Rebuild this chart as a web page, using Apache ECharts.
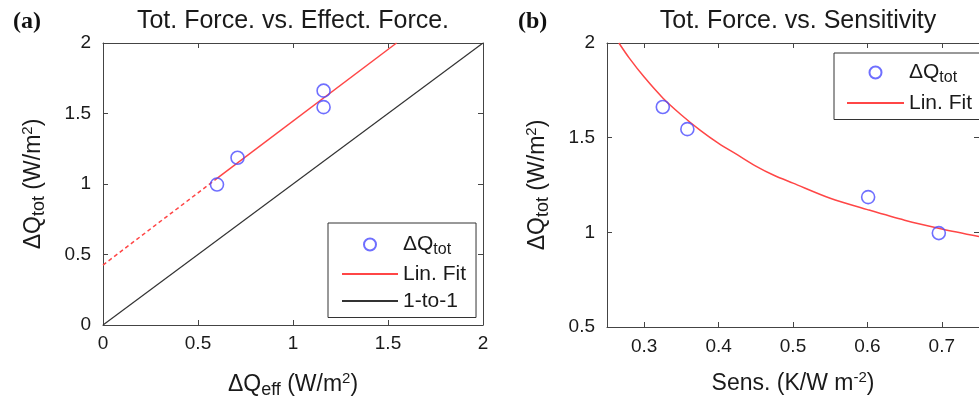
<!DOCTYPE html>
<html>
<head>
<meta charset="utf-8">
<script src="https://cdn.jsdelivr.net/npm/echarts@6/dist/echarts.min.js"></script>
<style>html,body{margin:0;padding:0;background:#fff;}#c{width:979px;height:404px;}</style>
</head>
<body>
<div id="c"></div>
<script>
// ---- data ----
const effForce = [0.60, 0.708, 1.161, 1.161];
const totForce = [0.996, 1.186, 1.545, 1.662];
const sens     = [0.696, 0.601, 0.358, 0.325];
const fitExtrapX = [0, 0.60];
const fitExtrapY = [0.425, 1.04];
const fitX = [0.60, 1.545];
const fitY = [1.04, 2.0];
const oneX = [0, 2];
const oneY = [0, 2];
const sensFit = [0.266, 0.28, 0.30, 0.325, 0.35, 0.375, 0.40, 0.425, 0.45, 0.475, 0.50, 0.55, 0.60, 0.65, 0.70, 0.75];
const totFit  = [2.00, 1.92, 1.82, 1.71, 1.62, 1.54, 1.47, 1.41, 1.35, 1.30, 1.26, 1.18, 1.12, 1.064, 1.018, 0.978];
const ticksBx = [0.3, 0.4, 0.5, 0.6, 0.7];

const pair = (xs, ys) => xs.map((x, i) => [x, ys[i]]);

const FONT = 'Liberation Sans, Arial, Helvetica, sans-serif';
const TXT = '#1a1a1a';
const AX = '#444';
const BLUE = '#4b4bff';
const RED = '#ff4646';

const nameRich = {
  m: {fontSize: 23, fontFamily: FONT, color: TXT, lineHeight: 28},
  s: {fontSize: 18, fontFamily: FONT, color: TXT, lineHeight: 12, verticalAlign: 'bottom'},
  p: {fontSize: 15, fontFamily: FONT, color: TXT, lineHeight: 12, verticalAlign: 'top'}
};

function baseAxis(extra) {
  return Object.assign({
    type: 'value',
    axisLine: {show: true, onZero: false, lineStyle: {color: AX, width: 1}},
    axisTick: {show: true, inside: true, length: 5, lineStyle: {color: AX, width: 1}},
    axisLabel: {show: true, color: TXT, fontFamily: FONT, fontSize: 19},
    splitLine: {show: false}
  }, extra);
}

const legendRich = {
  m: {fontSize: 21, fontFamily: FONT, color: TXT, lineHeight: 26},
  s: {fontSize: 16, fontFamily: FONT, color: TXT, lineHeight: 11, verticalAlign: 'bottom'}
};
function legendFmt(n) {
  const t = n.trim();
  if (t === 'ΔQtot') return '{m|ΔQ}{s|tot}';
  return '{m|' + t + '}';
}
const noSym = {opacity: 0};

const option = {
  animation: false,
  backgroundColor: '#fff',
  grid: [
    {left: 103, top: 43, width: 380, height: 284},
    {left: 607, top: 43, width: 381, height: 284}
  ],
  xAxis: [
    baseAxis({gridIndex: 0, position: 'bottom', min: 0, max: 2, interval: 0.5,
      axisLabel: {color: TXT, fontFamily: FONT, fontSize: 19, margin: 9},
      name: '{m|ΔQ}{s|eff}{m| (W/m}{p|2}{m|)}', nameLocation: 'middle', nameGap: 46,
      nameTextStyle: {rich: nameRich}}),
    baseAxis({gridIndex: 0, position: 'top', min: 0, max: 2, interval: 0.5, axisLabel: {show: false}}),
    baseAxis({gridIndex: 1, position: 'bottom', min: 0.25, max: 0.75,
      axisTick: {show: true, inside: true, length: 5, customValues: ticksBx, lineStyle: {color: AX, width: 1}},
      axisLabel: {color: TXT, fontFamily: FONT, fontSize: 19, margin: 10, customValues: ticksBx},
      name: '{m|Sens. (K/W m}{p|-2}{m|)}', nameLocation: 'middle', nameGap: 43,
      nameTextStyle: {rich: nameRich}}),
    baseAxis({gridIndex: 1, position: 'top', min: 0.25, max: 0.75,
      axisTick: {show: true, inside: true, length: 5, customValues: ticksBx, lineStyle: {color: AX, width: 1}},
      axisLabel: {show: false, customValues: ticksBx}})
  ],
  yAxis: [
    baseAxis({gridIndex: 0, position: 'left', min: 0, max: 2, interval: 0.5,
      axisLabel: {color: TXT, fontFamily: FONT, fontSize: 19, margin: 12},
      name: '{m|ΔQ}{s|tot}{m| (W/m}{p|2}{m|)}', nameLocation: 'middle', nameGap: 55,
      nameTextStyle: {rich: nameRich}}),
    baseAxis({gridIndex: 0, position: 'right', min: 0, max: 2, interval: 0.5, axisLabel: {show: false}}),
    baseAxis({gridIndex: 1, position: 'left', min: 0.5, max: 2, interval: 0.5,
      axisLabel: {color: TXT, fontFamily: FONT, fontSize: 19, margin: 12},
      name: '{m|ΔQ}{s|tot}{m| (W/m}{p|2}{m|)}', nameLocation: 'middle', nameGap: 55,
      nameTextStyle: {rich: nameRich}}),
    baseAxis({gridIndex: 1, position: 'right', min: 0.5, max: 2, interval: 0.5, axisLabel: {show: false}})
  ],
  legend: [
    {
      left: 328, top: 223, orient: 'vertical', itemWidth: 56, itemHeight: 12, itemGap: 6,
      padding: [11, 10, 6, 13], borderColor: '#333', borderWidth: 1, backgroundColor: '#fff',
      selectedMode: false,
      data: ['ΔQtot', {name: 'Lin. Fit', itemStyle: noSym}, {name: '1-to-1', itemStyle: noSym}],
      formatter: legendFmt, textStyle: {rich: legendRich, fontSize: 21, fontFamily: FONT, color: TXT}
    },
    {
      left: 834, top: 53, orient: 'vertical', itemWidth: 57, itemHeight: 12, itemGap: 7,
      padding: [9, 10, 6, 12], borderColor: '#333', borderWidth: 1, backgroundColor: '#fff',
      selectedMode: false,
      data: ['ΔQtot ', {name: 'Lin. Fit ', itemStyle: noSym}],
      formatter: legendFmt, textStyle: {rich: legendRich, fontSize: 21, fontFamily: FONT, color: TXT}
    }
  ],
  graphic: [
    {type: 'text', left: 13, top: 10, style: {text: '(a)', font: 'bold 24px "Liberation Serif", "Times New Roman", serif', fill: '#111'}},
    {type: 'text', left: 518, top: 10, style: {text: '(b)', font: 'bold 24px "Liberation Serif", "Times New Roman", serif', fill: '#111'}},
    {type: 'text', x: 293, y: 21, style: {text: 'Tot. Force. vs. Effect. Force.', font: '25px ' + FONT, fill: TXT, textAlign: 'center', textVerticalAlign: 'middle'}},
    {type: 'text', x: 798, y: 21, style: {text: 'Tot. Force. vs. Sensitivity', font: '25px ' + FONT, fill: TXT, textAlign: 'center', textVerticalAlign: 'middle'}}
  ],
  series: [
    {name: '1-to-1', type: 'line', xAxisIndex: 0, yAxisIndex: 0, data: pair(oneX, oneY),
      symbol: 'none', lineStyle: {color: '#333', width: 1.2}, itemStyle: {color: '#333'}},
    {name: 'fit-extrap', type: 'line', xAxisIndex: 0, yAxisIndex: 0, data: pair(fitExtrapX, fitExtrapY),
      symbol: 'none', lineStyle: {color: RED, width: 1.5, type: [4, 3]}, itemStyle: {color: RED}},
    {name: 'Lin. Fit', type: 'line', xAxisIndex: 0, yAxisIndex: 0, data: pair(fitX, fitY),
      symbol: 'none', lineStyle: {color: RED, width: 1.5}, itemStyle: {color: RED}},
    {name: 'ΔQtot', type: 'scatter', xAxisIndex: 0, yAxisIndex: 0, data: pair(effForce, totForce),
      symbol: 'circle', symbolSize: 13, z: 5,
      itemStyle: {color: 'rgba(255,255,255,0)', borderColor: BLUE, borderWidth: 1.6}},
    {name: 'Lin. Fit ', type: 'line', xAxisIndex: 2, yAxisIndex: 2, data: pair(sensFit, totFit),
      smooth: 0.3, symbol: 'none', lineStyle: {color: RED, width: 1.5}, itemStyle: {color: RED}},
    {name: 'ΔQtot ', type: 'scatter', xAxisIndex: 2, yAxisIndex: 2, data: pair(sens, totForce),
      symbol: 'circle', symbolSize: 13, z: 5,
      itemStyle: {color: 'rgba(255,255,255,0)', borderColor: BLUE, borderWidth: 1.6}}
  ]
};

const chart = echarts.init(document.getElementById('c'), null, {renderer: 'canvas'});
chart.setOption(option);
</script>
</body>
</html>
